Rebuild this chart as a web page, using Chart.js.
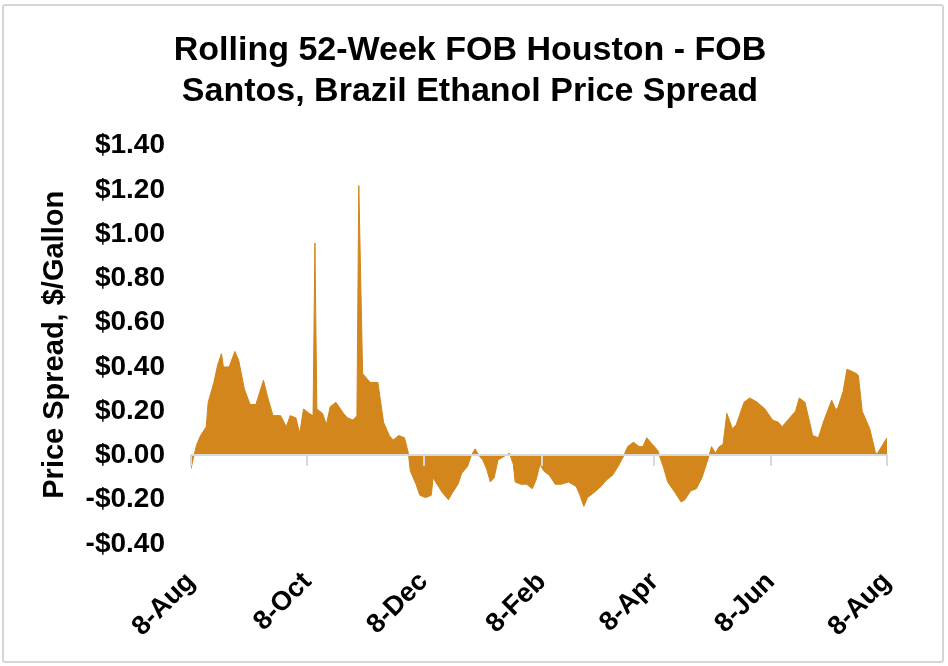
<!DOCTYPE html>
<html lang="en">
<head>
    <meta charset="UTF-8">
    <meta name="viewport" content="width=device-width, initial-scale=1.0">
    <title>Rolling 52-Week FOB Houston - FOB Santos, Brazil Ethanol Price Spread</title>
    <script src="https://cdn.jsdelivr.net/npm/chart.js"></script>
    <style>
        body {
            margin: 0;
            padding: 0;
            background-color: #ffffff;
        }
        #wrap {
            position: relative;
            width: 948px;
            height: 666px;
        }
        #frame {
            position: absolute;
            left: 2px;
            top: 4px;
            width: 938px;
            height: 655px;
            border: 2px solid #d6d6d6;
            border-radius: 3px;
            pointer-events: none;
        }
    </style>
</head>
<body>
    <div id="wrap">
        <canvas id="myChart"></canvas>
        <div id="frame"></div>
    </div>

    <script>
        // days after 8-Aug and the spread on that day ($/gallon)
        const days = [0, 1, 3, 5, 8, 9, 12, 14, 16, 17, 20, 23, 25, 28, 31, 34, 38, 40, 43, 47,
            50, 52, 55, 57, 59, 62, 64, 65, 66, 69, 71, 73, 76, 80, 82, 85, 87, 88, 90, 94,
            98, 101, 104, 106, 109, 112, 114, 115, 118, 120, 123, 126, 127, 129, 132, 135, 137, 140, 142, 145,
            147, 149, 151, 153, 155, 157, 159, 161, 163, 165, 167, 169, 170, 173, 176, 179, 181, 183, 185, 188,
            191, 194, 198, 202, 204, 206, 208, 211, 215, 218, 221, 224, 227, 229, 232, 235, 237, 239, 242, 245,
            246, 248, 250, 254, 257, 259, 262, 265, 268, 271, 273, 275, 277, 279, 281, 284, 286, 290, 293, 297,
            301, 305, 308, 310, 313, 317, 319, 322, 325, 326, 329, 332, 336, 338, 339, 342, 344, 349, 350, 352,
            356, 359, 360, 365];
        const spread = [-0.06, -0.02, 0.05, 0.09, 0.13, 0.24, 0.33, 0.41, 0.46, 0.40, 0.40, 0.47, 0.43, 0.30, 0.23, 0.23, 0.34, 0.27, 0.18, 0.18,
            0.13, 0.18, 0.17, 0.10, 0.21, 0.19, 0.18, 0.96, 0.21, 0.19, 0.14, 0.22, 0.24, 0.19, 0.17, 0.16, 0.18, 1.22, 0.37, 0.33,
            0.33, 0.15, 0.09, 0.07, 0.09, 0.08, 0.01, -0.07, -0.13, -0.18, -0.19, -0.18, -0.10, -0.13, -0.17, -0.20, -0.17, -0.13, -0.08, -0.05,
            0.00, 0.03, 0.00, -0.02, -0.06, -0.12, -0.10, -0.02, -0.01, 0.00, 0.01, -0.04, -0.12, -0.13, -0.13, -0.15, -0.11, -0.04, -0.07, -0.09,
            -0.13, -0.13, -0.12, -0.14, -0.18, -0.23, -0.19, -0.17, -0.14, -0.11, -0.09, -0.05, 0.00, 0.04, 0.06, 0.04, 0.04, 0.08, 0.05, 0.02,
            -0.01, -0.06, -0.12, -0.17, -0.21, -0.20, -0.16, -0.15, -0.10, -0.02, 0.04, 0.01, 0.04, 0.05, 0.19, 0.12, 0.14, 0.24, 0.26, 0.24,
            0.21, 0.16, 0.15, 0.13, 0.16, 0.20, 0.26, 0.24, 0.13, 0.09, 0.08, 0.16, 0.25, 0.21, 0.21, 0.29, 0.39, 0.37, 0.36, 0.20,
            0.12, 0.01, 0.01, 0.08];

        const tickDays = [0, 61, 122, 184, 243, 304, 365];
        const tickLabels = ['8-Aug', '8-Oct', '8-Dec', '8-Feb', '8-Apr', '8-Jun', '8-Aug'];

        const fontFamily = '"Liberation Sans", Arial, sans-serif';
        const fillColor = '#D3861B';

        function setTicks(scale) {
            scale.ticks = tickDays.map(d => ({ value: d }));
        }

        const ctx = document.getElementById('myChart').getContext('2d');
        new Chart(ctx, {
            type: 'line',
            data: {
                datasets: [{
                    label: 'Spread',
                    data: days.map((d, i) => ({ x: d, y: spread[i] })),
                    borderColor: fillColor,
                    borderWidth: 1,
                    backgroundColor: fillColor,
                    pointRadius: 0,
                    tension: 0,
                    fill: 'origin',
                    xAxisID: 'x',
                    yAxisID: 'y'
                }]
            },
            options: {
                responsive: true,
                maintainAspectRatio: false,
                animation: false,
                layout: {
                    padding: { left: 53, right: 61, top: 0, bottom: 0 }
                },
                scales: {
                    x: {
                        type: 'linear',
                        position: 'bottom',
                        min: 0,
                        max: 365,
                        afterBuildTicks: setTicks,
                        afterFit: s => { s.height = 122; },
                        grid: { display: false, drawTicks: false },
                        border: { display: false },
                        ticks: {
                            autoSkip: false,
                            minRotation: 45,
                            maxRotation: 45,
                            padding: 22,
                            color: '#000',
                            font: { family: fontFamily, size: 27, weight: 'bold' },
                            callback: (value, index) => tickLabels[index]
                        }
                    },
                    // zero line with its tick marks
                    x0: {
                        type: 'linear',
                        position: { y: 0 },
                        min: 0,
                        max: 365,
                        afterBuildTicks: setTicks,
                        ticks: { display: false },
                        grid: {
                            drawOnChartArea: false,
                            drawTicks: true,
                            tickLength: 10,
                            color: '#d9d9d9',
                            lineWidth: 2,
                            z: 1
                        },
                        border: { display: true, color: '#d9d9d9', width: 2, z: 1 }
                    },
                    y: {
                        min: -0.4,
                        max: 1.4,
                        afterFit: s => { s.width = 138; },
                        grid: { display: false, drawTicks: false },
                        border: { display: false },
                        ticks: {
                            stepSize: 0.2,
                            padding: 26,
                            color: '#000',
                            font: { family: fontFamily, size: 28, weight: 'bold' },
                            callback: v => (v < -0.001 ? '-$' : '$') + Math.abs(v).toFixed(2)
                        },
                        title: {
                            display: true,
                            text: 'Price Spread, $/Gallon',
                            color: '#000',
                            padding: { top: -15, bottom: 0 },
                            font: { family: fontFamily, size: 29, weight: 'bold' }
                        }
                    }
                },
                plugins: {
                    legend: { display: false },
                    tooltip: { enabled: false },
                    title: {
                        display: true,
                        text: ['Rolling 52-Week FOB Houston - FOB', 'Santos, Brazil Ethanol Price Spread'],
                        color: '#000',
                        font: { family: fontFamily, size: 34, weight: 'bold', lineHeight: 1.2 },
                        padding: { top: 30, bottom: 34 }
                    }
                }
            }
        });
    </script>
</body>
</html>
